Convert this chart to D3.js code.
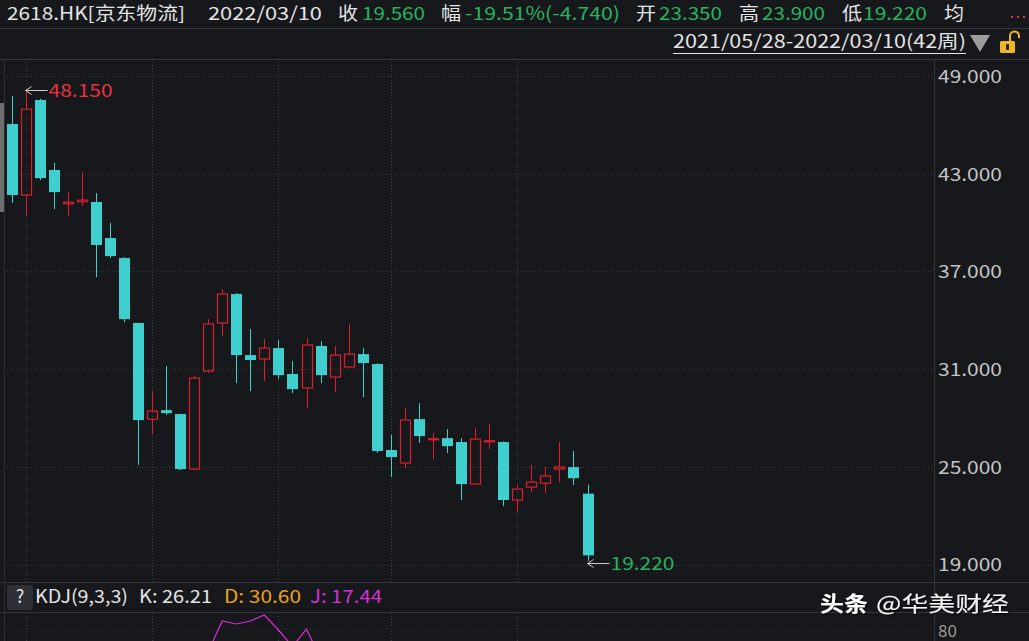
<!DOCTYPE html>
<html><head><meta charset="utf-8">
<script src="https://cdn.jsdelivr.net/npm/d3@7"></script>
<style>html,body{margin:0;padding:0;background:#16181c;overflow:hidden}</style>
</head><body>
<svg id="c" width="1029" height="641"></svg>
<script>
// ---- data ----
const dates = ["2021/05/28","2021/06/04","2021/06/11","2021/06/18","2021/06/25","2021/07/02","2021/07/09","2021/07/16","2021/07/23","2021/07/30",
"2021/08/06","2021/08/13","2021/08/20","2021/08/27","2021/09/03","2021/09/10","2021/09/17","2021/09/24","2021/09/30","2021/10/08",
"2021/10/15","2021/10/22","2021/10/29","2021/11/05","2021/11/12","2021/11/19","2021/11/26","2021/12/03","2021/12/10","2021/12/17",
"2021/12/23","2021/12/31","2022/01/07","2022/01/14","2022/01/21","2022/01/28","2022/02/04","2022/02/11","2022/02/18","2022/02/25",
"2022/03/04","2022/03/10"];
const opens  = [46.05,41.69,47.53,43.23,41.15,41.28,41.26,39.05,37.82,33.83, 27.93,28.48,28.24,24.86,30.88,33.83,35.61,31.86,31.62,32.29, 30.70,29.84,32.42,30.51,31.13,31.92,31.31,26.03,25.23,27.93, 26.68,26.76,26.52,23.94,26.56,26.52,22.96,23.75,24.00,24.86, 24.98,23.35];
const highs  = [47.77,48.15,47.60,43.66,41.87,43.10,41.81,39.97,37.88,33.86, 29.65,31.19,28.27,30.57,34.07,35.92,35.67,33.46,32.85,32.78, 31.49,32.91,32.72,32.42,33.77,32.29,31.35,26.95,28.61,28.91, 27.07,27.32,26.76,27.38,27.62,26.55,23.88,25.11,24.98,26.52, 25.97,23.90];
const lows   = [41.20,40.40,42.60,40.83,40.40,41.01,36.65,37.82,33.89,25.11, 27.01,28.18,24.80,24.80,30.76,33.03,30.14,29.65,30.27,30.39, 29.53,28.61,30.14,29.59,31.10,29.28,25.85,24.37,24.92,26.46, 25.47,25.85,22.96,23.90,26.09,22.59,22.22,23.45,23.39,24.06, 23.88,19.22];
const closes = [41.69,46.97,42.73,41.87,41.25,41.38,38.62,37.94,34.07,27.87, 28.42,28.30,24.86,30.45,33.77,35.61,31.86,31.56,32.29,30.63, 29.77,32.48,30.63,31.86,31.92,31.37,25.97,25.60,27.87,26.89, 26.72,26.27,23.94,26.70,26.60,22.96,23.63,24.06,24.43,24.98, 24.30,19.56];
const priceTicks = [19,25,31,37,43,49];
// KDJ J line (only the part visible inside the window)
const jValues = [null,null,null,null,null,null,null,null,null,null, null,null,null,null,50.5,88.75,85.0,88.75,96.25,77.5, 56.9,78.75,41.6,null,null,null,null,null,null,null, null,null,null,null,null,null,null,null,null,null, null,null];
const kdjTicks = [80];
const header = {code:"2618.HK[京东物流]", date:"2022/03/10", close:"19.560", chg:"-19.51%(-4.740)", open:"23.350", high:"23.900", low:"19.220"};
const rangeLabel = "2021/05/28-2022/03/10(42周)";
const kdjLabel = {name:"KDJ(9,3,3)", k:"K: 26.21", d:"D: 30.60", j:"J: 17.44"};

// ---- styles ----
const BG="#16181c", GRID="#3b3e44", SEP="#33363b", CYAN="#3fcfcf", RED="#dc1f2a", REDTXT="#e8333d",
      GREEN="#27b35c", WHITE="#e4e4e4", AXIS="#c4c4c4", ORANGE="#eba21c", MAG="#d62fd6";
const FONT="'Noto Sans CJK SC','Noto Sans',sans-serif";

const svg=d3.select("#c");
svg.append("rect").attr("width",1029).attr("height",641).attr("fill",BG);

const n=dates.length;
const x=d3.scaleLinear().domain([0,n-1]).range([11.5,587.5]);
const y=d3.scaleLinear().domain([19,49]).range([564.5,76]);
const yk=d3.scaleLinear().domain([0,100]).range([692,612]);
const bodyW=11;
const plotL=4, plotR=934;

function txt(g,xp,yp,s,color,size,len,anchor,weight){
  const t=g.append("text").attr("x",xp).attr("y",yp).text(s).attr("fill",color)
    .attr("font-family",FONT).attr("font-size",size).attr("text-anchor",anchor||"start");
  if(weight) t.attr("font-weight",weight);
  if(len) t.attr("textLength",len).attr("lengthAdjust","spacingAndGlyphs");
  return t;
}

// separators
[28,59,582,612].forEach(v=>svg.append("line").attr("x1",0).attr("x2",1029).attr("y1",v+0.5).attr("y2",v+0.5).attr("stroke",SEP));
svg.append("line").attr("x1",plotR+0.5).attr("x2",plotR+0.5).attr("y1",59).attr("y2",641).attr("stroke",SEP);
svg.append("line").attr("x1",plotL+0.5).attr("x2",plotL+0.5).attr("y1",59).attr("y2",641).attr("stroke","#2a2d32");
// scrollbar indicator
svg.append("rect").attr("x",0).attr("y",103).attr("width",4).attr("height",109).attr("fill","#6c6e72");

// horizontal grid
const grid=svg.append("g");
priceTicks.forEach(v=>grid.append("line").attr("x1",plotL).attr("x2",plotR).attr("y1",Math.round(y(v))+0.5).attr("y2",Math.round(y(v))+0.5)
  .attr("stroke",GRID).attr("stroke-dasharray","1,2"));
// vertical grid at first week of every second month
const vIdx=dates.map((d,i)=>i).filter(i=>i>0 && dates[i].slice(5,7)!==dates[i-1].slice(5,7) && (+dates[i].slice(5,7))%2===0);
vIdx.forEach(i=>{
  const xv=Math.round(x(i))+0.5;
  grid.append("line").attr("x1",xv).attr("x2",xv).attr("y1",59).attr("y2",582).attr("stroke",GRID).attr("stroke-dasharray","1,2");
  grid.append("line").attr("x1",xv).attr("x2",xv).attr("y1",613).attr("y2",641).attr("stroke",GRID).attr("stroke-dasharray","1,2");
});
// kdj grid
kdjTicks.forEach(v=>grid.append("line").attr("x1",plotL).attr("x2",plotR).attr("y1",Math.round(yk(v))+0.5).attr("y2",Math.round(yk(v))+0.5)
  .attr("stroke","#2a2d32").attr("stroke-dasharray","1,2"));

// price axis
const axis=d3.axisRight(y).tickValues(priceTicks).tickSize(0).tickFormat(d3.format(".3f"));
const ag=svg.append("g").attr("transform",`translate(${plotR+4},0)`).call(axis);
ag.select(".domain").remove();
ag.selectAll("text").attr("fill",AXIS).attr("font-family",FONT).attr("font-size",18).attr("dy","0.35em").attr("x",0)
  .attr("textLength",64).attr("lengthAdjust","spacingAndGlyphs");
const kax=d3.axisRight(yk).tickValues(kdjTicks).tickSize(0);
const kg=svg.append("g").attr("transform",`translate(${plotR+4},1)`).call(kax);
kg.select(".domain").remove();
kg.selectAll("text").attr("fill","#9a9a9a").attr("font-family",FONT).attr("font-size",17).attr("dy","0.45em").attr("x",0);

// candles
const data=dates.map((d,i)=>({i,o:opens[i],h:highs[i],l:lows[i],c:closes[i]}));
const cg=svg.append("g");
data.forEach(d=>{
  const cx=Math.round(x(d.i))+0.5;
  const up=d.c>=d.o;
  const top=y(Math.max(d.o,d.c)), bot=y(Math.min(d.o,d.c));
  const col=up?RED:CYAN;
  if(up){
    cg.append("line").attr("x1",cx).attr("x2",cx).attr("y1",y(d.h)).attr("y2",top).attr("stroke",col);
    cg.append("line").attr("x1",cx).attr("x2",cx).attr("y1",bot).attr("y2",y(d.l)).attr("stroke",col);
    const hgt=Math.max(bot-top,1);
    cg.append("rect").attr("x",cx-bodyW/2+0.5).attr("y",top).attr("width",bodyW-1).attr("height",hgt)
      .attr("fill","none").attr("stroke",col).attr("stroke-width",1.2);
  } else {
    cg.append("line").attr("x1",cx).attr("x2",cx).attr("y1",y(d.h)).attr("y2",y(d.l)).attr("stroke",col);
    cg.append("rect").attr("x",cx-bodyW/2).attr("y",top).attr("width",bodyW).attr("height",Math.max(bot-top,1.5)).attr("fill",col);
  }
});

// high / low markers
const hiI=d3.maxIndex(highs), loI=d3.minIndex(lows);
const mk=svg.append("g");
function marker(i,v,color,off){
  const px=x(i), py=Math.round(y(v))+0.5+(off||0);
  mk.append("line").attr("x1",px).attr("x2",px+22).attr("y1",py).attr("y2",py).attr("stroke","#cfcfcf");
  mk.append("path").attr("d",`M${px+6},${py-4} L${px},${py} L${px+6},${py+4}`).attr("fill","none").attr("stroke","#cfcfcf");
  txt(mk,px+23,py,v.toFixed(3),color,18,64).attr("dy","0.36em");
}
marker(hiI,highs[hiI],REDTXT,0);
marker(loI,lows[loI],GREEN,2);

// KDJ J line
svg.append("path").datum(jValues.map((v,i)=>[i,v])).attr("fill","none").attr("stroke",MAG).attr("stroke-width",1.2)
  .attr("d",d3.line().defined(d=>d[1]!==null).x(d=>x(d[0])).y(d=>yk(d[1])));

// header
const hg=svg.append("g");
txt(hg,7,20,header.code,WHITE,18,178);
txt(hg,208,20,header.date,WHITE,18,114);
txt(hg,338,20,"收",WHITE,18,20);
txt(hg,362,20,header.close,GREEN,18,63);
txt(hg,441,20,"幅",WHITE,18,20);
txt(hg,465,20,header.chg,GREEN,18,155);
txt(hg,636,20,"开",WHITE,18,20);
txt(hg,659,20,header.open,GREEN,18,63);
txt(hg,739,20,"高",WHITE,18,20);
txt(hg,762,20,header.high,GREEN,18,63);
txt(hg,842,20,"低",WHITE,18,20);
txt(hg,863,20,header.low,GREEN,18,64);
txt(hg,944,20,"均",WHITE,18,20);
// red dots of the next (cut-off) field
[1011,1017,1023].forEach(xd=>hg.append("rect").attr("x",xd).attr("y",16).attr("width",2).attr("height",2).attr("fill",REDTXT));

// range row
txt(hg,673,48,rangeLabel,WHITE,18,293);
hg.append("line").attr("x1",673).attr("x2",966).attr("y1",53.5).attr("y2",53.5).attr("stroke",WHITE);
hg.append("path").attr("d","M970,35 L990,35 L980,52 Z").attr("fill","#9c9c9c");
// lock
hg.append("path").attr("d","M1010,41 L1010,36 A4.5,4.5 0 0 1 1019,36 L1019,38").attr("fill","none").attr("stroke","#f0b62a").attr("stroke-width",2);
hg.append("rect").attr("x",1000).attr("y",41).attr("width",15).attr("height",12).attr("rx",1.5).attr("fill","#f0b62a");
hg.append("rect").attr("x",1006).attr("y",44).attr("width",3).attr("height",6).attr("fill","#2a2a2a");

// KDJ label row
const kl=svg.append("g");
kl.append("rect").attr("x",7).attr("y",585).attr("width",26).attr("height",25).attr("rx",3).attr("fill","#2d3035");
txt(kl,20,603,"?",WHITE,18,null,"middle");
txt(kl,35,603,kdjLabel.name,WHITE,18,93);
txt(kl,139,603,kdjLabel.k,WHITE,18,73);
txt(kl,224,603,kdjLabel.d,ORANGE,18,77);
txt(kl,310,603,kdjLabel.j,MAG,18,72);

// watermark
const defs=svg.append("defs");
const f=defs.append("filter").attr("id","sh").attr("x","-10%").attr("y","-30%").attr("width","120%").attr("height","160%");
f.append("feDropShadow").attr("dx",1).attr("dy",1).attr("stdDeviation",1).attr("flood-color","#000").attr("flood-opacity",0.8);
const wm=svg.append("g").attr("filter","url(#sh)");
txt(wm,820,611,"头条",WHITE,21,48,"start","bold").attr("fill","#ffffff");
txt(wm,876,611,"@华美财经",WHITE,21,133).attr("fill","#f2f2f2");
</script>
</body></html>
